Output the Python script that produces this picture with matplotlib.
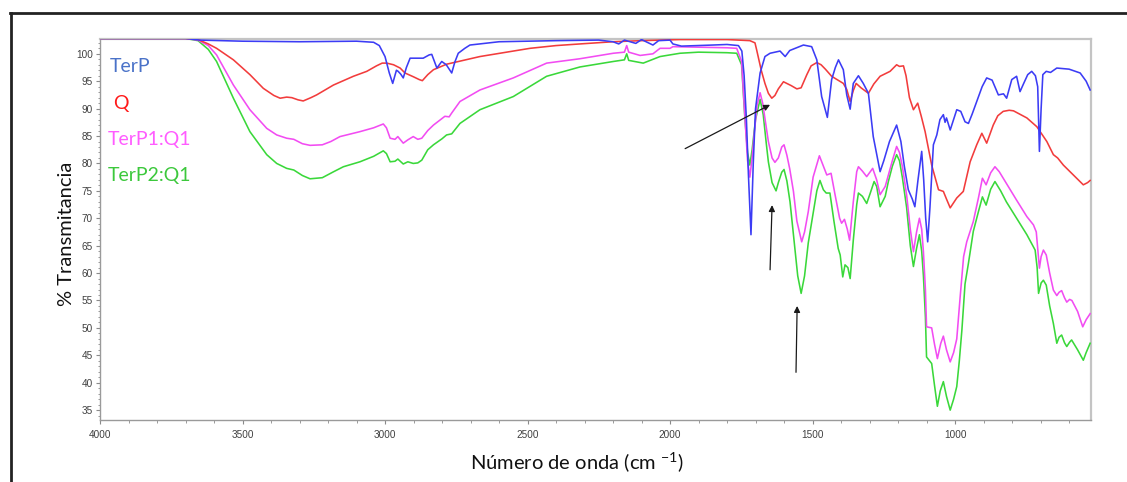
import matplotlib
matplotlib.use("Agg")
import matplotlib.pyplot as plt
from matplotlib.lines import Line2D
from matplotlib.ticker import MultipleLocator, FixedLocator

# ---------------- data ----------------
terp_wn = [4000, 3700, 3650, 3500, 3300, 3100, 3040, 3020, 3000, 2985, 2973, 2960, 2954, 2945, 2936,
           2925, 2912, 2866, 2845, 2836, 2826, 2818, 2801, 2785, 2766, 2755, 2743, 2720, 2702, 2600,
           2400, 2250, 2200, 2180, 2160, 2120, 2100, 2060, 2040, 2000, 1990, 1960, 1900, 1850, 1800,
           1760, 1748, 1740, 1732, 1725, 1716, 1708, 1700, 1684, 1667, 1649, 1614, 1596, 1580, 1532,
           1503, 1485, 1468, 1448, 1433, 1420, 1409, 1392, 1380, 1368, 1357, 1339, 1322, 1304, 1287,
           1263, 1250, 1230, 1205, 1190, 1178, 1164, 1150, 1141, 1130, 1117, 1110, 1103, 1096, 1088,
           1076, 1064, 1053, 1041, 1035, 1030, 1017, 1005, 994, 980, 965, 953, 940, 924, 905, 889,
           870, 848, 830, 819, 801, 784, 772, 760, 745, 731, 718, 710, 704, 698, 692, 680, 665, 643,
           600, 561, 540, 526]
terp_t = [102.8, 102.8, 102.5, 102.3, 102.2, 102.3, 102.1, 101.5, 99.5, 96.5, 94.6, 97.0, 96.8, 96.3, 95.6,
          97.5, 99.2, 99.2, 99.8, 99.9, 98.5, 97.4, 98.6, 98.0, 96.5, 98.5, 100.1, 101.0, 101.6, 102.2,
          102.4, 102.5, 102.2, 101.8, 102.5, 101.9, 102.6, 101.6, 102.4, 102.5, 101.8, 101.4, 101.5, 101.6, 101.7,
          101.5, 100.5, 96.0, 88.0, 78.0, 67.0, 80.0, 90.0, 96.5, 99.5, 100.1, 100.5, 99.5, 100.6, 101.6,
          101.3, 98.9, 92.2, 88.4, 95.3, 97.5, 98.9, 97.1, 92.5, 89.9, 94.6, 96.0, 94.6, 92.8, 84.9,
          78.5, 80.5, 84.0, 87.0, 84.0, 79.5, 75.2, 73.5, 72.1, 77.0, 82.2, 77.0, 70.0, 65.7, 72.0,
          83.4, 85.2, 88.0, 88.9, 87.5, 88.3, 86.1, 88.0, 89.8, 89.5, 87.6, 87.3, 89.0, 91.3, 94.0, 95.6,
          95.2, 92.5, 92.7, 91.9, 95.3, 95.9, 93.1, 94.5, 96.2, 96.8, 96.0, 94.0, 82.2, 90.0, 96.2, 96.8, 96.6, 97.4,
          97.2, 96.5, 95.0, 93.4]

q_wn = [4000, 3700, 3656, 3620, 3591, 3532, 3474, 3427, 3390, 3368, 3345, 3327, 3305, 3287, 3260,
        3240, 3181, 3111, 3064, 3030, 3010, 2994, 2970, 2947, 2930, 2900, 2880, 2869, 2850, 2830,
        2784, 2667, 2550, 2491, 2400, 2316, 2200, 2100, 1965, 1800, 1720, 1702, 1696, 1680, 1667,
        1655, 1643, 1632, 1620, 1602, 1575, 1555, 1540, 1520, 1505, 1485, 1470, 1455, 1433, 1392,
        1380, 1368, 1357, 1347, 1330, 1304, 1285, 1263, 1228, 1205, 1195, 1181, 1172, 1160, 1146,
        1131, 1118, 1105, 1082, 1058, 1041, 1030, 1017, 994, 971, 947, 924, 906, 889, 866, 850,
        831, 810, 795, 748, 713, 678, 655, 640, 620, 585, 550, 535, 526]
q_t = [102.8, 102.8, 102.6, 101.8, 101.0, 98.9, 96.2, 93.7, 92.4, 91.9, 92.1, 92.0, 91.6, 91.4, 92.0,
       92.5, 94.3, 95.9, 96.8, 97.8, 98.3, 98.3, 98.0, 97.4, 96.5, 95.8, 95.3, 95.1, 96.2, 97.1,
       98.1, 99.5, 100.5, 101.0, 101.5, 101.8, 102.2, 102.4, 102.6, 102.6, 102.4, 102.0, 100.7, 97.0, 94.6,
       92.8, 91.9, 92.4, 93.6, 94.9, 94.2, 93.6, 93.8, 96.2, 97.8, 98.4, 98.0, 97.2, 95.9, 94.6,
       93.5, 91.3, 93.3, 94.6, 93.8, 92.8, 94.5, 95.9, 96.8, 98.0, 97.7, 97.8, 96.0, 92.0, 89.8,
       91.0, 88.5, 85.8, 79.7, 75.2, 74.9, 73.5, 71.9, 73.7, 74.9, 80.3, 83.4, 85.5, 83.7, 87.0, 88.7,
       89.5, 89.7, 89.6, 88.3, 86.7, 84.0, 81.6, 81.0, 79.7, 77.9, 76.1, 76.5, 76.9]

terp1q1_wn = [4000, 3700, 3656, 3620, 3591, 3532, 3474, 3415, 3380, 3345, 3320, 3290, 3263, 3220, 3190,
              3158, 3088, 3040, 3006, 2995, 2982, 2965, 2955, 2936, 2920, 2901, 2885, 2871, 2850, 2830,
              2810, 2790, 2775, 2766, 2737, 2667, 2550, 2433, 2316, 2199, 2160, 2152, 2145, 2105, 2060,
              2035, 2000, 1990, 1900, 1800, 1766, 1749, 1737, 1728, 1720, 1712, 1705, 1695, 1684, 1675,
              1665, 1655, 1642, 1632, 1620, 1608, 1600, 1590, 1580, 1567, 1555, 1538, 1528, 1515, 1498,
              1476, 1462, 1450, 1435, 1421, 1405, 1398, 1388, 1378, 1370, 1357, 1345, 1339, 1325, 1310,
              1300, 1289, 1275, 1263, 1245, 1234, 1220, 1205, 1195, 1185, 1170, 1157, 1146, 1135, 1125,
              1117, 1111, 1104, 1100, 1082, 1072, 1062, 1050, 1041, 1030, 1017, 1005, 994, 982, 970,
              959, 936, 918, 904, 891, 875, 860, 845, 831, 810, 784, 760, 748, 725, 715, 710, 704,
              698, 690, 680, 668, 655, 643, 635, 626, 616, 608, 598, 590, 570, 552, 540, 526]
terp1q1_t = [102.8, 102.8, 102.5, 101.5, 99.8, 94.3, 89.8, 86.4, 85.2, 84.6, 84.4, 83.6, 83.3, 83.4, 84.0,
             84.9, 85.8, 86.5, 87.2, 86.5, 84.6, 84.4, 84.9, 83.7, 84.3, 84.9, 84.4, 84.6, 86.0, 87.0,
             87.8, 88.6, 88.5, 89.2, 91.3, 93.4, 95.6, 98.3, 99.1, 100.1, 100.3, 101.5, 100.3, 99.7, 100.0,
             101.0, 101.0, 101.3, 101.2, 101.1, 101.0, 98.6, 88.3, 80.5, 77.5, 81.0, 85.2, 90.5, 92.9, 91.0,
             87.5, 84.0, 81.0, 80.2, 81.0, 83.0, 83.4, 81.5, 79.0, 74.9, 69.5, 65.7, 67.5, 71.2, 77.5,
             81.4, 79.5, 77.9, 78.2, 74.3, 70.0, 69.1, 69.8, 68.0, 66.0, 73.0, 78.5, 79.4, 78.6, 77.6,
             78.3, 79.1, 77.0, 74.3, 75.8, 77.9, 80.5, 83.1, 82.0, 79.5, 74.3, 68.0, 63.9, 67.5, 70.0,
             68.0, 63.9, 57.0, 50.2, 50.0, 47.0, 44.4, 47.2, 48.5, 46.0, 43.8, 45.5, 48.0, 55.7, 63.0,
             65.7, 69.4, 73.7, 77.3, 76.1, 78.3, 79.4, 78.5, 77.3, 75.5, 73.3, 71.3, 70.3, 68.8, 67.5, 64.5, 60.9,
             63.0, 64.2, 63.3, 60.0, 56.9, 55.9, 56.5, 56.8, 55.5, 54.7, 55.2, 55.0, 53.0, 50.2, 51.5, 52.6]

terp2q1_wn = [4000, 3700, 3656, 3620, 3591, 3532, 3474, 3415, 3380, 3345, 3320, 3290, 3263, 3220, 3180,
              3146, 3088, 3040, 3006, 2995, 2982, 2965, 2955, 2936, 2920, 2901, 2885, 2871, 2850, 2830,
              2800, 2784, 2766, 2737, 2667, 2550, 2433, 2316, 2199, 2160, 2152, 2145, 2094, 2060, 2035,
              2000, 1965, 1900, 1800, 1766, 1749, 1737, 1728, 1720, 1712, 1700, 1684, 1673, 1662, 1655,
              1642, 1628, 1620, 1608, 1600, 1590, 1579, 1565, 1552, 1540, 1528, 1515, 1497, 1485, 1474,
              1462, 1452, 1439, 1425, 1410, 1403, 1394, 1386, 1376, 1368, 1357, 1345, 1339, 1325, 1310,
              1298, 1284, 1275, 1263, 1245, 1234, 1220, 1205, 1195, 1185, 1170, 1157, 1146, 1135, 1125,
              1117, 1111, 1104, 1100, 1082, 1072, 1062, 1052, 1041, 1030, 1017, 1005, 994, 985, 976,
              965, 953, 936, 918, 904, 891, 875, 860, 840, 820, 784, 748, 719, 712, 707,
              698, 690, 680, 668, 655, 643, 635, 626, 616, 608, 598, 591, 570, 550, 540, 526]
terp2q1_t = [102.8, 102.8, 102.4, 100.8, 98.6, 91.9, 85.8, 81.6, 80.0, 79.1, 78.8, 77.8, 77.2, 77.4, 78.5,
             79.4, 80.3, 81.3, 82.3, 81.8, 80.3, 80.4, 80.8, 79.9, 80.3, 80.0, 80.1, 80.6, 82.5, 83.4,
             84.5, 85.2, 85.4, 87.3, 89.8, 92.2, 95.9, 97.6, 98.6, 98.9, 100.0, 98.8, 98.3, 99.0, 99.5,
             99.8, 100.1, 100.3, 100.2, 100.1, 98.0, 88.0, 82.0, 79.7, 82.5, 88.0, 91.7, 88.9, 83.5, 80.3,
             76.5, 75.0, 76.5, 78.4, 78.9, 76.8, 73.0, 66.0, 59.5, 56.3, 59.5, 65.5, 71.2, 75.0, 76.9,
             75.2, 74.6, 74.6, 69.5, 64.5, 63.3, 59.3, 61.5, 61.0, 59.0, 66.0, 72.5, 74.6, 74.0, 72.7,
             74.5, 76.7, 75.8, 72.1, 74.0, 76.7, 79.5, 81.6, 80.5, 77.5, 72.0, 65.0, 61.2, 64.5, 67.0,
             64.0, 59.5, 52.0, 44.7, 43.5, 39.5, 35.7, 38.5, 40.2, 37.5, 35.0, 37.0, 39.3, 44.0, 49.6,
             58.0, 61.8, 67.6, 71.2, 73.9, 72.4, 75.3, 76.7, 75.0, 73.0, 70.0, 67.0, 64.2, 61.0, 56.3,
             58.2, 58.7, 57.8, 54.0, 50.8, 47.2, 48.3, 48.7, 47.3, 46.6, 47.4, 47.8, 46.0, 44.1, 45.5, 47.2]

series_labels = ["TerP", "Q", "TerP1:Q1", "TerP2:Q1"]
x_ticks = [4000, 3500, 3000, 2500, 2000, 1500, 1000]
y_ticks = [35, 40, 45, 50, 55, 60, 65, 70, 75, 80, 85, 90, 95, 100]
# arrows: (tail wavenumber, tail %T, head wavenumber, head %T)
arrows = [(1947, 82.7, 1649, 90.7), (1649, 60.6, 1642, 72.4), (1558, 41.9, 1554, 54.0)]

# ---------------- figure ----------------
W, H = 1127, 482
fig = plt.figure(figsize=(W / 100, H / 100), dpi=100)
fig.patch.set_facecolor("white")

def fx(px):
    return px / W

def fy(py):
    return 1 - py / H

ax = fig.add_axes([fx(100), fy(420), fx(1091) - fx(100), fy(39) - fy(420)])
ax.set_xlim(4000, 523)
ax.set_ylim(33.2, 102.7)

lw = 1.15
ax.plot(terp2q1_wn, terp2q1_t, color="#3ad83a", lw=lw, zorder=3)
ax.plot(terp1q1_wn, terp1q1_t, color="#f24cf2", lw=lw, zorder=4)
ax.plot(q_wn, q_t, color="#f23c3c", lw=lw, zorder=5)
ax.plot(terp_wn, terp_t, color="#3c3cf5", lw=lw, zorder=6)

for (x0, y0, x1, y1) in arrows:
    ax.annotate("", xy=(x1, y1), xytext=(x0, y0),
                arrowprops=dict(arrowstyle="-|>", color="#1a1a1a", lw=0.9,
                                mutation_scale=9, shrinkA=0, shrinkB=0), zorder=8)

# spines & ticks
for s in ["top", "right"]:
    ax.spines[s].set_color("#c4c4c4")
    ax.spines[s].set_linewidth(1.6)
for s in ["left", "bottom"]:
    ax.spines[s].set_color("#9a9a9a")
    ax.spines[s].set_linewidth(1.0)

ax.xaxis.set_major_locator(FixedLocator(x_ticks))
ax.xaxis.set_minor_locator(MultipleLocator(100))
ax.yaxis.set_major_locator(FixedLocator(y_ticks))
ax.yaxis.set_minor_locator(MultipleLocator(1))
ax.tick_params(axis="both", which="major", direction="out", length=3, width=0.8,
               color="#8a8a8a", labelsize=7.2, labelcolor="#404040", pad=2)
ax.tick_params(axis="both", which="minor", direction="out", length=1.8, width=0.7,
               color="#9a9a9a")
ax.tick_params(axis="x", which="major", pad=4)
for lab in ax.get_xticklabels() + ax.get_yticklabels():
    lab.set_fontfamily("Liberation Sans")

# series names as coloured text
name_colors = ["#4a72c8", "#ff1a1a", "#ff5cff", "#3cc83c"]
name_pos = [(110, 66), (113, 104), (108, 139), (108, 175)]
for name, c, (px, py) in zip(series_labels, name_colors, name_pos):
    fig.text(fx(px), fy(py), name, color=c, fontsize=14, family="Lato",
             ha="left", va="center")

# axis labels
plt.rcParams["mathtext.fontset"] = "custom"
plt.rcParams["mathtext.rm"] = "Lato"
plt.rcParams["mathtext.it"] = "Lato:italic"
fig.text(fx(66), fy(234), "% Transmitancia", rotation=90, fontsize=14.5,
         family="Lato", ha="center", va="center", color="#111111")
fig.text(fx(577), fy(462), "Número de onda (cm $^{\\mathrm{-1}}$)", fontsize=14.5,
         family="Lato", ha="center", va="center", color="#111111")

# outer frame lines (top and left)
fig.add_artist(Line2D([fx(10), 1.0], [fy(12.5), fy(12.5)], color="#222222", lw=2.0))
fig.add_artist(Line2D([fx(11), fx(11)], [fy(12.5), 0.0], color="#222222", lw=2.0))

fig.savefig("out.png", dpi=100, facecolor="white")
